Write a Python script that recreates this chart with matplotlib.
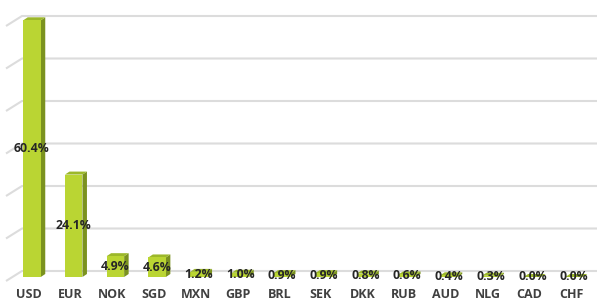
import numpy as np
import matplotlib
matplotlib.use("Agg")
import matplotlib.pyplot as plt
from matplotlib.patches import Polygon

currencies = ["USD", "EUR", "NOK", "SGD", "MXN", "GBP", "BRL",
              "SEK", "DKK", "RUB", "AUD", "NLG", "CAD", "CHF"]
shares = [60.4, 24.1, 4.9, 4.6, 1.2, 1.0, 0.9, 0.9, 0.8, 0.6, 0.4, 0.3, 0.0, 0.0]
grid_values = [0, 10, 20, 30, 40, 50, 60]

plt.rcParams["font.family"] = ["Open Sans", "DejaVu Sans"]

W, H = 601, 300
px_x = 41.7          # pixels per category
px_y = 4.25          # pixels per percent
x0_px, base_px = 32, 277   # first bar centre, bar base (pixels from top)

fig = plt.figure(figsize=(W / 100, H / 100), dpi=100)
ax = fig.add_axes([0, 0, 1, 1])
ax.set_xlim(-x0_px / px_x, (W - x0_px) / px_x)
ax.set_ylim(-(H - base_px) / px_y, base_px / px_y)
ax.axis("off")

# depth offsets (data units)
bar_dx, bar_dy = 4.5 / px_x, 3 / px_y
back_dy = 6 / px_y
wall_dx, wall_dy = 16 / px_x, 10 / px_y
back_left = (22 - x0_px) / px_x
back_right = (597 - x0_px) / px_x

grid_col = "#dcdcdc"
for v in grid_values:
    yb = v + back_dy
    ax.plot([back_left - wall_dx, back_left, back_right],
            [yb - wall_dy, yb, yb], color=grid_col, lw=1.5, zorder=1,
            solid_capstyle="butt")

front_col = "#bad533"
side_col = "#7b921f"
top_col = "#9cb82a"
half = 17.5 / px_x / 2

for i, (cur, v) in enumerate(zip(currencies, shares)):
    l, r = i - half, i + half
    ax.add_patch(Polygon([(l, 0), (r, 0), (r, v), (l, v)],
                         closed=True, fc=front_col, ec="none", zorder=3))
    ax.add_patch(Polygon([(r, 0), (r + bar_dx, bar_dy), (r + bar_dx, v + bar_dy), (r, v)],
                         closed=True, fc=side_col, ec="none", zorder=2))
    ax.add_patch(Polygon([(l, v), (r, v), (r + bar_dx, v + bar_dy), (l + bar_dx, v + bar_dy)],
                         closed=True, fc=top_col, ec="none", zorder=2))
    ax.text(i, v / 2, f"{v:.1f}%", ha="center", va="center",
            fontsize=8.8, fontweight="bold", color="#262626", zorder=4)
    ax.text(i - 3 / px_x, -(294.5 - base_px) / px_y, cur, ha="center", va="center",
            fontsize=9, fontweight="bold", color="#404040", zorder=4)

fig.savefig("out.png", dpi=100)
